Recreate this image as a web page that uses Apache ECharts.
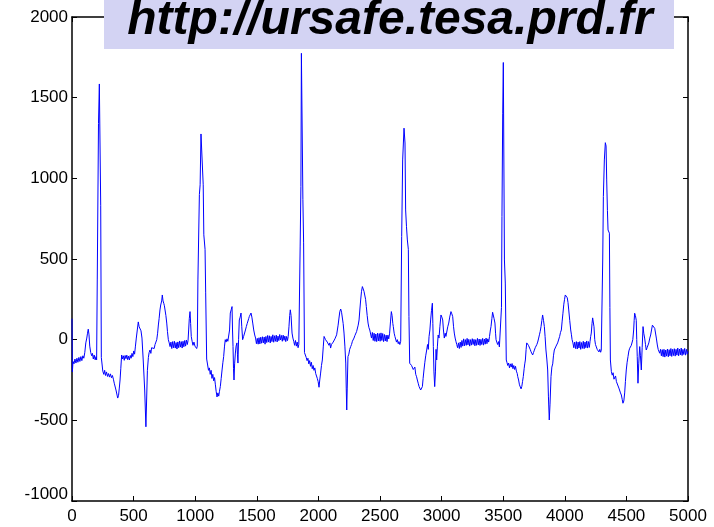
<!DOCTYPE html>
<html>
<head>
<meta charset="utf-8">
<script src="https://cdn.jsdelivr.net/npm/echarts@6/dist/echarts.min.js"></script>
<style>
html,body{margin:0;padding:0;background:#fff;}
#chart{width:714px;height:527px;}
</style>
</head>
<body>
<div id="chart"></div>
<script>
// Tick values
const xTicks = [0, 500, 1000, 1500, 2000, 2500, 3000, 3500, 4000, 4500, 5000];
const yTicks = [-1000, -500, 0, 500, 1000, 1500, 2000];
const bannerText = 'http://ursafe.tesa.prd.fr';

// Signal samples [x, y], one array per heartbeat segment
const beat1 = [
[0,130],[3,-200],[8,-135],[16,-150],[24,-120],[32,-145],[40,-115],[48,-140],[56,-110],[64,-135],[72,-105],[80,-130],[88,-100],[96,-115],[104,-78],[112,-20],[120,10],[126,40],[132,65],[138,30],[144,-40],[152,-80],[160,-100],[166,-85],[173,-120],[180,-95],[188,-125],[195,-105],[200,-125],
[205,370],[215,1340],[222,1585],[228,1580],[233,830],[238,-110],[244,-115],[250,-195],[258,-215],[265,-190],[272,-222],[280,-200],[288,-228],[296,-210],[304,-232],[312,-212],[320,-236],[328,-222],[336,-245],[343,-270],[350,-260],[357,-312],[364,-300],[371,-362],[378,-345],[384,-300],[390,-250],[396,-180],[403,-95],[410,-120],[417,-100],[424,-128],[431,-98],[438,-118],[445,-96],[452,-124],[459,-102],[466,-126],[473,-98],[480,-115],[487,-85],[494,-105],[501,-70],[508,-90],[515,-40],[522,10],[530,60],[538,110],[545,80],[552,70],[560,55],[568,10],[578,-126],[590,-312],[600,-540],[606,-535],[612,-190],[620,-110],[626,-80],[633,-64],[640,-85],[646,-50],[653,-60],[660,-43],[667,-55],[674,-30],[681,-15],[688,0],[695,40],[701,91],[707,130],[714,184],[720,215],[728,240],[733,277],[739,240],[745,225],[750,210],[755,205],[762,150],[769,103],[775,50],[782,0],[789,-20],
[796,-43],[803,-15],[810,-55],[817,-12],[824,-50],[831,-10],[838,-52],[845,-18],[852,-58],[859,-14],[866,-50],[873,-8],[880,-46],[887,-12],[894,-52],[901,-10],[908,-44],[915,-5],[922,-40],[929,-2],[936,-30],[942,-5],[947,60],[952,130],[958,174],[963,100],[968,20],[975,-10],[982,-35],[990,-15],[998,-40]
];
const beat2 = [
[1005,-30],[1012,-55],[1017,-40],[1022,370],[1034,900],[1040,960],[1047,1275],[1058,1265],[1065,960],[1070,650],[1080,560],[1085,290],[1093,-120],[1100,-130],[1108,-190],[1115,-175],[1122,-215],[1129,-190],[1136,-240],[1143,-215],[1150,-255],[1157,-235],[1164,-280],[1170,-320],[1177,-355],[1184,-330],[1191,-350],[1197,-320],[1204,-290],[1211,-240],[1218,-188],[1225,-140],[1231,-105],[1238,-40],[1244,0],[1251,-15],[1258,5],[1265,-10],[1272,0],[1279,60],[1285,165],[1292,185],[1299,205],[1303,60],[1307,-43],[1311,-180],[1315,-250],[1320,-150],[1326,-83],[1332,-40],[1339,-20],[1343,-90],[1347,-145],[1352,0],[1358,122],[1365,140],[1372,165],[1378,80],[1385,0],[1393,20],[1402,17],[1408,60],[1415,81],[1422,100],[1429,112],[1434,130],[1439,143],[1446,155],[1453,165],[1460,140],[1467,103],[1475,60],[1483,29],
[1490,10],[1497,-25],[1504,8],[1511,-28],[1518,12],[1525,-26],[1532,15],[1539,-22],[1546,18],[1553,-20],[1560,16],[1567,-28],[1574,20],[1581,-18],[1588,26],[1595,-15],[1602,24],[1609,-20],[1616,20],[1623,-12],[1630,30],[1637,-16],[1644,24],[1651,-10],[1658,28],[1665,-14],[1672,22],[1679,-6],[1686,32],[1693,-2],[1700,26],[1707,-10],[1714,28],[1721,-4],[1728,22],[1735,-12],[1742,20],[1749,-6],
[1755,20],[1761,80],[1767,150],[1772,185],[1778,150],[1786,41],[1793,10],[1800,-10],[1807,-35],[1814,-5],[1821,-40],[1828,-15],[1835,-50],[1841,-30],[1846,-20],[1852,580],[1858,950],[1862,1775],[1868,1770],[1874,870],[1880,600],[1887,-80]
];
const beat3 = [
[1894,-83],[1901,-110],[1908,-130],[1915,-115],[1922,-150],[1929,-130],[1936,-165],[1943,-140],[1950,-180],[1957,-160],[1964,-190],[1971,-175],[1978,-210],[1985,-200],[1991,-240],[1998,-260],[2005,-295],[2011,-250],[2018,-207],[2025,-160],[2032,-126],[2040,-40],[2046,20],[2051,30],[2058,0],[2065,10],[2072,-15],[2079,-5],[2086,-35],[2093,-20],[2099,-52],[2106,-30],[2113,-40],[2120,-15],[2127,-20],[2134,5],[2141,10],[2148,30],[2153,41],[2160,90],[2167,134],[2174,175],[2181,190],[2188,170],[2194,165],[2201,100],[2208,41],[2215,-40],[2222,-145],[2226,-300],[2230,-436],[2234,-300],[2240,-105],[2247,-90],[2254,-60],[2262,-43],[2269,-30],[2276,-10],[2283,0],[2289,10],[2296,25],[2303,35],[2310,50],[2316,60],[2323,90],[2330,122],[2337,190],[2343,246],[2350,300],[2357,329],[2364,320],[2370,300],[2376,289],[2383,250],[2389,205],[2396,150],[2403,103],[2410,75],[2417,60],[2424,50],
[2431,10],[2438,45],[2445,-5],[2452,40],[2459,-10],[2466,35],[2473,-12],[2480,40],[2487,-8],[2494,38],[2501,-10],[2508,42],[2515,-5],[2522,38],[2529,-12],[2536,32],[2543,-8],[2550,28],[2557,-12],[2564,28],[2571,5],
[2578,40],[2585,110],[2592,174],[2598,150],[2604,100],[2608,81],[2615,40],[2621,20],[2627,10],[2634,-15],[2641,0],[2648,-25],[2654,-12],[2661,-30],[2668,-10],[2673,-20],[2676,639],[2684,1114],[2695,1311],[2703,1219],[2708,804],[2715,700],[2722,618],[2730,560],[2735,143],[2741,-146]
];
const beat4 = [
[2749,-146],[2756,-160],[2763,-150],[2770,-185],[2776,-188],[2783,-170],[2790,-215],[2797,-230],[2803,-250],[2810,-270],[2817,-290],[2823,-280],[2830,-312],[2837,-320],[2844,-291],[2850,-240],[2857,-188],[2864,-140],[2871,-100],[2879,-64],[2886,-30],[2892,-60],[2898,19],[2905,60],[2911,122],[2918,180],[2925,226],[2929,100],[2933,-43],[2938,-200],[2944,-291],[2950,-200],[2955,-60],[2960,-126],[2966,-40],[2972,29],[2979,10],[2986,80],[2995,153],[3002,140],[3009,122],[3015,60],[3022,10],[3029,40],[3035,20],[3041,29],[3050,80],[3058,103],[3066,140],[3076,174],[3083,160],[3090,143],[3097,80],[3103,41],[3110,10],
[3116,-10],[3123,-30],[3130,-50],[3137,-20],[3144,-55],[3151,-15],[3158,-48],[3165,-5],[3172,-40],[3179,5],[3186,-38],[3193,0],[3200,-35],[3207,8],[3214,-32],[3221,2],[3228,-40],[3235,0],[3242,-34],[3249,6],[3256,-30],[3263,2],[3270,-38],[3277,0],[3284,-35],[3291,8],[3298,-32],[3305,4],[3312,-36],[3319,2],[3326,-30],[3333,8],[3340,-34],[3347,4],[3354,-28],[3361,10],[3368,-25],[3375,5],[3382,-15],
[3389,20],[3396,60],[3401,81],[3408,130],[3414,170],[3420,174],[3426,130],[3433,103],[3438,40],[3442,0],[3448,-15],[3455,-30],[3462,-12],[3469,-45],[3476,-50],[3482,-40],[3486,200],[3490,763],[3496,1400],[3501,1718],[3505,1710],[3510,494],[3517,351],[3525,-126]
];
const beat5 = [
[3530,-140],[3537,-160],[3544,-145],[3551,-175],[3558,-150],[3565,-170],[3572,-148],[3579,-180],[3586,-160],[3593,-185],[3600,-165],[3607,-195],[3614,-210],[3618,-229],[3625,-250],[3632,-280],[3639,-290],[3645,-305],[3651,-290],[3657,-260],[3663,-229],[3670,-180],[3675,-150],[3680,-126],[3686,-60],[3691,-20],[3698,-10],[3705,-35],[3712,-43],[3719,-60],[3726,-75],[3733,-70],[3739,-95],[3746,-80],[3753,-65],[3760,-50],[3766,-53],[3773,-30],[3780,-15],[3788,10],[3794,30],[3800,50],[3807,81],[3814,120],[3820,153],[3827,120],[3834,81],[3840,20],[3847,-64],[3854,-120],[3861,-188],[3867,-350],[3874,-498],[3880,-400],[3888,-229],[3895,-170],[3902,-150],[3908,-100],[3915,-64],[3922,-70],[3929,-40],[3935,-50],[3942,-20],[3950,-10],[3958,20],[3965,45],[3972,60],[3978,110],[3985,164],[3992,220],[3998,250],[4004,277],[4012,270],[4020,260],[4026,230],[4032,184],[4040,120],[4048,60],[4054,30],[4059,0],
[4066,-20],[4073,-50],[4080,-15],[4087,-55],[4094,-12],[4101,-58],[4108,-15],[4115,-52],[4122,-12],[4129,-60],[4136,-18],[4143,-54],[4150,-10],[4157,-56],[4164,-15],[4171,-50],[4178,-8],[4185,-52],[4192,-12],[4199,-48],
[4205,-10],[4210,20],[4215,41],[4221,100],[4226,135],[4231,143],[4237,80],[4243,0],[4249,-30],[4256,-45],[4263,-60],[4270,-50],[4277,-76],[4284,-60],[4291,-78],[4296,-65],[4302,-60],[4308,500],[4313,887],[4321,1114],[4329,1221],[4335,1200],[4340,990],[4346,800],[4351,680],[4362,660],[4366,200],[4370,-126]
];
const beat6 = [
[4378,-198],[4385,-220],[4392,-205],[4399,-245],[4405,-239],[4412,-225],[4419,-260],[4426,-250],[4432,-270],[4439,-300],[4446,-290],[4452,-330],[4459,-343],[4466,-370],[4472,-394],[4479,-380],[4486,-330],[4492,-260],[4499,-188],[4506,-140],[4513,-105],[4520,-70],[4527,-53],[4534,-60],[4540,-35],[4545,-43],[4552,0],[4559,60],[4563,120],[4567,164],[4573,150],[4580,120],[4584,0],[4588,-105],[4594,-270],[4600,-150],[4608,-43],[4614,-100],[4621,-188],[4628,-50],[4635,81],[4641,40],[4648,10],[4655,-30],[4661,-64],[4668,-50],[4675,-43],[4682,-20],[4690,10],[4697,29],[4704,60],[4711,90],[4718,102],[4724,90],[4730,70],[4735,60],[4743,10],[4751,-33],[4758,-60],[4764,-70],[4770,-84],
[4777,-60],[4784,-100],[4791,-62],[4798,-105],[4805,-60],[4812,-108],[4819,-64],[4826,-102],[4833,-58],[4840,-106],[4847,-62],[4854,-100],[4861,-55],[4868,-104],[4875,-60],[4882,-98],[4889,-56],[4896,-102],[4903,-60],[4910,-96],[4917,-52],[4924,-100],[4931,-58],[4938,-94],[4945,-52],[4952,-98],[4959,-60],[4966,-92],[4973,-54],[4980,-96],[4987,-60],[4994,-90],[5000,-72]
];

const signal = [].concat(beat1, beat2, beat3, beat4, beat5, beat6);

const chart = echarts.init(document.getElementById('chart'), null, {renderer: 'canvas'});
const FONT = '"Liberation Sans", Arial, sans-serif';
const axisLineStyle = {color: '#000', width: 1.5};
const tickStyle = {color: '#000', width: 1};
const plain = function (v) { return String(v); };

const option = {
  animation: false,
  backgroundColor: '#fff',
  grid: {left: 72, right: 26, top: 17, bottom: 26, containLabel: false},
  xAxis: [{
    type: 'value', min: xTicks[0], max: xTicks[xTicks.length - 1], interval: 500,
    position: 'bottom',
    axisLine: {show: true, onZero: false, lineStyle: axisLineStyle},
    axisTick: {show: true, inside: true, length: 5, lineStyle: tickStyle},
    axisLabel: {show: true, color: '#000', fontSize: 17, fontFamily: FONT, margin: 7, formatter: plain},
    splitLine: {show: false}
  }, {
    type: 'value', min: xTicks[0], max: xTicks[xTicks.length - 1], interval: 500,
    position: 'top',
    axisLine: {show: true, onZero: false, lineStyle: axisLineStyle},
    axisTick: {show: true, inside: true, length: 5, lineStyle: tickStyle},
    axisLabel: {show: false},
    splitLine: {show: false}
  }],
  yAxis: [{
    type: 'value', min: yTicks[0], max: yTicks[yTicks.length - 1], interval: 500,
    position: 'left',
    axisLine: {show: true, onZero: false, lineStyle: axisLineStyle},
    axisTick: {show: true, inside: true, length: 5, lineStyle: tickStyle},
    axisLabel: {show: true, color: '#000', fontSize: 17, fontFamily: FONT, margin: 4,
      formatter: function (v) { return v === -1000 ? '{low|' + v + '}' : String(v); },
      rich: {low: {fontSize: 17, fontFamily: FONT, color: '#000', padding: [0, 0, 14, 0]}}
    },
    splitLine: {show: false}
  }, {
    type: 'value', min: yTicks[0], max: yTicks[yTicks.length - 1], interval: 500,
    position: 'right',
    axisLine: {show: true, onZero: false, lineStyle: axisLineStyle},
    axisTick: {show: true, inside: true, length: 5, lineStyle: tickStyle},
    axisLabel: {show: false},
    splitLine: {show: false}
  }],
  series: [{
    type: 'line',
    xAxisIndex: 0, yAxisIndex: 0,
    data: signal,
    showSymbol: false,
    symbol: 'none',
    lineStyle: {color: '#0000ff', width: 1},
    z: 2
  }],
  graphic: [{
    type: 'rect', left: 104, top: 0, z: 100,
    shape: {width: 570, height: 49},
    style: {fill: '#d3d3f3'}
  }, {
    type: 'text', x: 390, y: 21, z: 101,
    style: {
      text: bannerText,
      font: 'italic bold 48px "Liberation Sans", Arial, sans-serif',
      fill: '#000', align: 'center', verticalAlign: 'middle'
    }
  }]
};
chart.setOption(option);
</script>
</body>
</html>
